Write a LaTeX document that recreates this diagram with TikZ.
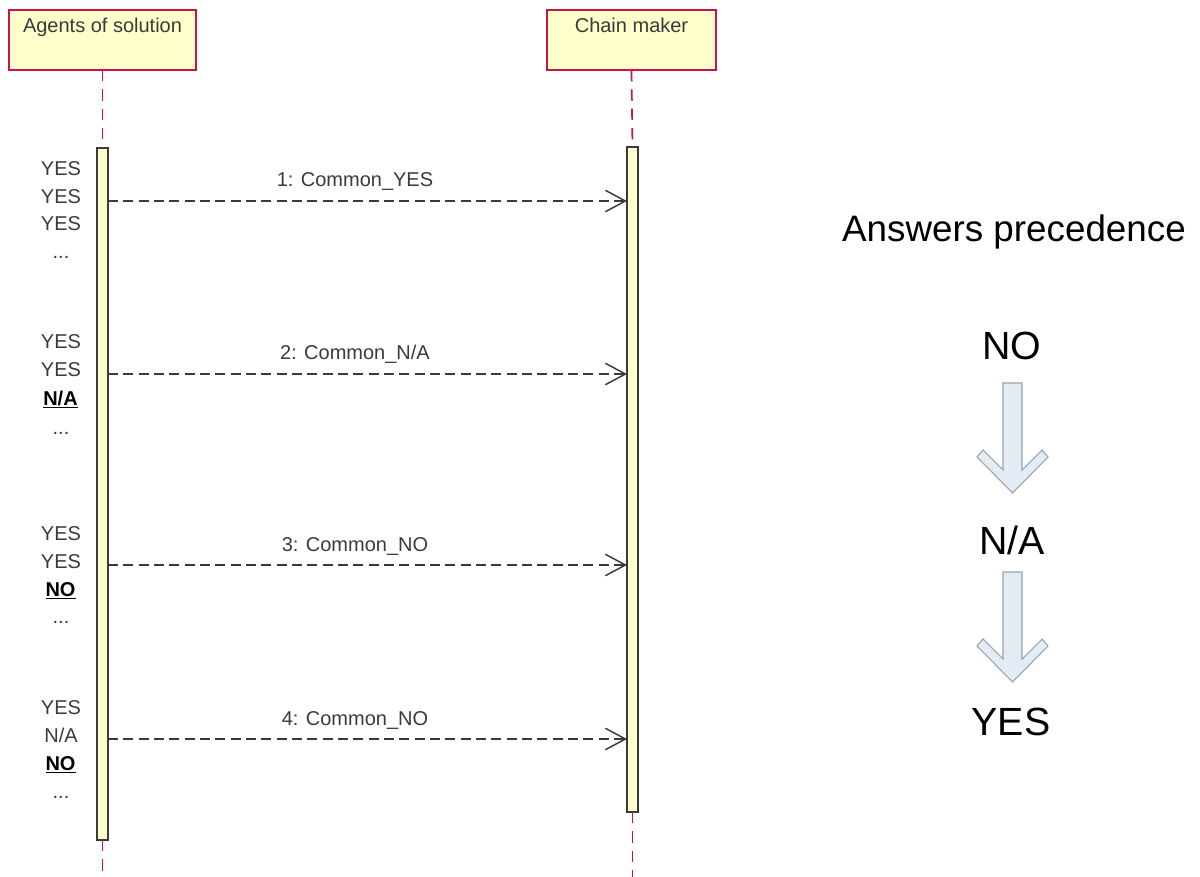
\documentclass[tikz,border=0pt]{standalone}
\usepackage{fontspec}
\setmainfont{Liberation Sans}
\usetikzlibrary{arrows.meta}

\definecolor{lifered}{HTML}{C8144B}
\definecolor{notefill}{HTML}{FFFFCC}
\definecolor{inkgray}{HTML}{3A3A3A}
\definecolor{precfill}{HTML}{E3EBF5}
\definecolor{precedge}{HTML}{9AA3AD}

\tikzset{
  hdr/.style={draw=lifered, fill=notefill, line width=1.1pt, inner sep=0pt, outer sep=0pt},
  act/.style={draw=inkgray, fill=notefill, line width=1.1pt, inner sep=0pt, outer sep=0pt,
              minimum width=8.25pt},
  life/.style={draw=lifered, line width=1.3pt, dash pattern=on 8.5pt off 6pt},
  msg/.style={draw=inkgray, line width=1.1pt, dash pattern=on 7.5pt off 4pt,
              -{Straight Barb[length=15pt, width=16pt, line width=1.1pt]}},
  small/.style={font=\fontsize{15}{18}\selectfont, text=inkgray, inner sep=0pt, anchor=base},
  strong/.style={font=\fontsize{15}{18}\selectfont\bfseries, text=black, inner sep=0pt, anchor=base},
  big/.style={font=\fontsize{29.5}{34}\selectfont, text=black, inner sep=0pt, anchor=base},
  prec/.style={fill=precfill, draw=precedge, line width=0.8pt, line join=miter},
}

\begin{document}
\begin{tikzpicture}[x=0.75pt, y=-0.75pt]
  \useasboundingbox (0,0) rectangle (1200,877);

  % participant headers
  \node[hdr, minimum width=140.25pt, minimum height=45pt] (agents) at (102.5,40) {};
  \node[small] (agentsT) at (102.5,33) {Agents of solution};
  \node[hdr, minimum width=126.75pt, minimum height=45pt] (chain) at (631.5,40) {};
  \node[small] (chainT) at (631.5,33) {Chain maker};

  % activation bars
  \node[act, minimum height=519pt] (actL) at (102.5,494) {};
  \node[act, minimum height=498.75pt] (actR) at (632.5,479.5) {};

  % lifelines
  \coordinate (endL) at (102.5,877);
  \coordinate (endR) at (632.5,877);
  \draw[life] (agents.south) -- (actL.north);
  \draw[life] (actL.south) -- (endL);
  \draw[life] (chain.south) -- (actR.north);
  \draw[life] (actR.south) -- (endR);

  % messages
  \foreach \i/\y/\t in {1/201/{1: Common\_YES}, 2/374/{2: Common\_N/A},
                        3/565/{3: Common\_NO}, 4/739/{4: Common\_NO}}{
    \coordinate (m\i) at (0,\y);
    \draw[msg] (actL.east |- m\i) -- (actR.west |- m\i);
    \node[small] (ml\i) at (355,\y-14) {\t};
  }

  % answers gathered before each message
  \node[small] (a11) at (61,176) {YES};
  \node[small] (a12) at (61,204) {YES};
  \node[small] (a13) at (61,231) {YES};
  \node[small] (a14) at (61,259) {...};

  \node[small] (a21) at (61,349) {YES};
  \node[small] (a22) at (61,377) {YES};
  \node[strong] (a23) at (60.5,405) {\underline{N/A}};
  \node[small] (a24) at (61,434) {...};

  \node[small] (a31) at (61,540) {YES};
  \node[small] (a32) at (61,568) {YES};
  \node[strong] (a33) at (60.5,596) {\underline{NO}};
  \node[small] (a34) at (61,623) {...};

  \node[small] (a41) at (61,714) {YES};
  \node[small] (a42) at (61,742) {N/A};
  \node[strong] (a43) at (60.5,770) {\underline{NO}};
  \node[small] (a44) at (61,798) {...};

  % precedence legend
  \node[big, font=\fontsize{27.6}{32}\selectfont] (title) at (1014,242) {Answers precedence};
  \node[big] (pNO) at (1011.5,360) {NO};
  \node[big] (pNA) at (1012,554) {N/A};
  \node[big] (pYES) at (1011,735) {YES};

  \foreach \top in {383,572}{
    \draw[prec] (1012.5,\top)
      ++(-9.5,0) -- ++(0,87) -- ++(-20,-20) -- ++(-6,7)
      -- ++(35.5,36) -- ++(35.5,-36) -- ++(-6,-7) -- ++(-20,20)
      -- ++(0,-87) -- cycle;
  }
\end{tikzpicture}
\end{document}
